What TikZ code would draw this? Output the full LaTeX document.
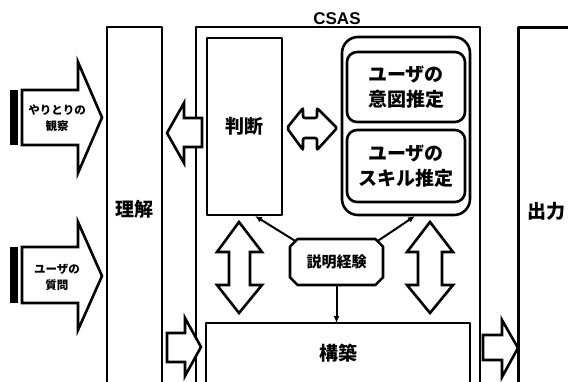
\documentclass[tikz,border=0pt]{standalone}
\usepackage{fontspec}
\setmainfont{Noto Sans CJK JP}
\newfontfamily\latfont{Liberation Sans}
\usetikzlibrary{shapes.misc,arrows.meta}
\begin{document}
\begin{tikzpicture}[x=1pt,y=-1pt,line join=round,
  every node/.style={inner sep=0pt,outer sep=0pt},
  boxln/.style={draw,line width=2.6pt},
  blockarrow/.style={draw,line width=2.6pt,fill=white,line join=miter},
  big/.style={font=\bfseries\fontsize{19}{25}\selectfont,align=center},
  small/.style={font=\bfseries\fontsize{11.5}{16}\selectfont,align=center},
  conn/.style={line width=2pt,-{Latex[length=7pt,width=6pt]}}]
\useasboundingbox (0,0) rectangle (568,381);
\clip (0,0) rectangle (568,381);

% columns
\draw[line width=2.6pt] (107,395) -- (107,27) -- (162,27) -- (162,395);
\node[big] (rikai) at (134,209) {理解};
\draw[line width=2.6pt] (196,395) -- (196,27) -- (480,27) -- (480,395);
\node[font=\latfont\bfseries\fontsize{17}{20}\selectfont] (csas) at (337,19) {CSAS};
\draw[line width=3pt] (518,395) -- (518,27) -- (575,27);
\node[big] (out) at (546,211) {出力};

% inner boxes
\node[boxln,big,minimum width=75pt,minimum height=177pt] (handan) at (244.5,126.5) {判断};
\node[boxln,rounded corners=16pt,minimum width=128pt,minimum height=178pt] (group) at (406,126) {};
\node[boxln,big,rounded corners=10pt,minimum width=118pt,minimum height=70pt] (ito) at (406,87) {ユーザの\\意図推定};
\node[boxln,big,rounded corners=10pt,minimum width=118pt,minimum height=72pt] (skill) at (406,166) {ユーザの\\スキル推定};
\node[boxln,chamfered rectangle,chamfered rectangle angle=45,chamfered rectangle xsep=4pt,
      font=\bfseries\fontsize{15}{18}\selectfont,
      minimum width=93pt,minimum height=46pt] (setsu) at (336.5,262) {説明経験};
\node[boxln,big,minimum width=264pt,minimum height=62pt] (kouchiku) at (338,354) {};
\node[big] (kouchikut) at (338,353) {構築};

% input arrows
\fill (10,90) rectangle (17.5,145);
\draw[blockarrow] (22,90) -- (78,90) -- (78,62) -- (102,117.5) -- (78,173) -- (78,145) -- (22,145) -- cycle;
\node[small] (obs) at (57,118) {やりとりの\\観察};
\fill (10,247) rectangle (17.5,303);
\draw[blockarrow] (22,247) -- (78,247) -- (78,222) -- (102,276) -- (78,330) -- (78,303) -- (22,303) -- cycle;
\node[small] (q) at (57,277) {ユーザの\\質問};

% block arrows between parts
\draw[blockarrow] (202,118) -- (184,118) -- (184,103) -- (167,133) -- (184,163) -- (184,147) -- (202,147) -- cycle;
\draw[blockarrow] (167,333) -- (185,333) -- (185,318) -- (201,347) -- (185,376) -- (185,362) -- (167,362) -- cycle;
\draw[blockarrow] (483,335) -- (502,335) -- (502,320) -- (518,348) -- (502,377) -- (502,360) -- (483,360) -- cycle;

% double arrows
\draw[blockarrow,rounded corners=2pt] (287,128) -- (303,108) -- (303,118) -- (317,118) -- (317,108) -- (337,128)
   -- (317,150) -- (317,138) -- (303,138) -- (303,150) -- cycle;
\draw[blockarrow] (239,222) -- (262,252) -- (250,252) -- (250,285) -- (262,285) -- (239,313)
   -- (217,285) -- (229,285) -- (229,252) -- (217,252) -- cycle;
\draw[blockarrow] (430,222) -- (453,252) -- (442,252) -- (442,285) -- (453,285) -- (430,313)
   -- (407,285) -- (418,285) -- (418,252) -- (407,252) -- cycle;

% connectors
\coordinate (hj) at (255,216);
\coordinate (gp) at (415,216);
\draw[conn] (setsu.153) -- (hj);
\draw[conn] (setsu.27) -- (gp);
\draw[conn] (setsu.south) -- (kouchiku.north -| setsu.south);
\end{tikzpicture}
\end{document}
